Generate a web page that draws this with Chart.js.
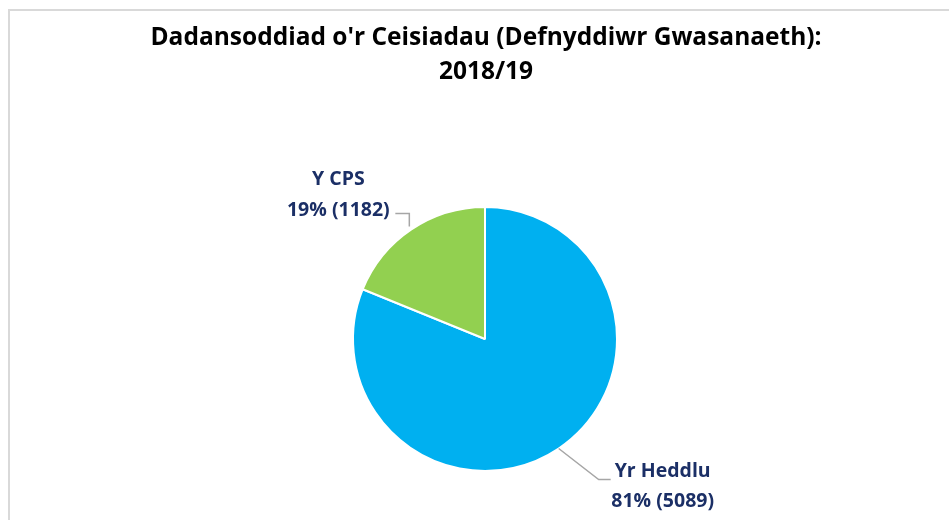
<!DOCTYPE html>
<html><head><meta charset="utf-8">
<script src="https://cdn.jsdelivr.net/npm/chart.js@4/dist/chart.umd.min.js"></script>
<style>
html,body{margin:0;padding:0;background:#fff;overflow:hidden;}
#frame{position:absolute;left:8px;top:9px;width:2000px;height:2000px;border:2px solid #d9d9d9;box-sizing:border-box;}
#wrap{position:absolute;left:0;top:0;width:949px;height:520px;}
</style></head>
<body>
<div id="frame"></div>
<div id="wrap"><canvas id="c" width="949" height="520"></canvas></div>
<script>
const titleLines = ["Dadansoddiad o'r Ceisiadau (Defnyddiwr Gwasanaeth):", "2018/19"];
const categories = ["Yr Heddlu", "Y CPS"];
const values = [5089, 1182];
const percents = ["81%", "19%"];
const colors = ["#00B0F0", "#92D050"];

const labelFont = "bold 19.5px 'Open Sans', sans-serif";
const titleFont = "bold 24.5px 'Open Sans', sans-serif";
const labelColor = "#1B2F66";
const leaderColor = "#A6A6A6";

const overlay = {
  id: 'overlay',
  afterDraw(chart) {
    const ctx = chart.ctx;
    ctx.save();
    ctx.fillStyle = "#000";
    ctx.font = titleFont;
    ctx.textAlign = "center";
    ctx.textBaseline = "middle";
    ctx.fillText(titleLines[0], 486, 38);
    ctx.fillText(titleLines[1], 486, 72);

    const meta = chart.getDatasetMeta(0);
    const pts = meta.data.map(a => {
      const mid = (a.startAngle + a.endAngle) / 2;
      return {x: a.x + Math.cos(mid) * a.outerRadius, y: a.y + Math.sin(mid) * a.outerRadius};
    });
    ctx.strokeStyle = leaderColor;
    ctx.lineWidth = 1.5;
    const h = pts[0];
    ctx.beginPath();
    ctx.moveTo(h.x, h.y);
    ctx.lineTo(h.x + 40, h.y + 31);
    ctx.lineTo(h.x + 52, h.y + 31);
    ctx.stroke();
    const c = pts[1];
    ctx.beginPath();
    ctx.moveTo(c.x - 2, c.y - 3);
    ctx.lineTo(c.x - 2, c.y - 16);
    ctx.lineTo(c.x - 16, c.y - 16);
    ctx.stroke();

    ctx.fillStyle = labelColor;
    ctx.font = labelFont;
    ctx.textAlign = "center";
    ctx.fillText(categories[0], h.x + 104, h.y + 23);
    ctx.fillText(percents[0] + " (" + values[0] + ")", h.x + 104, h.y + 53);
    ctx.fillText(categories[1], c.x - 73, c.y - 50);
    ctx.fillText(percents[1] + " (" + values[1] + ")", c.x - 73, c.y - 19);
    ctx.restore();
  }
};

new Chart(document.getElementById('c'), {
  type: 'pie',
  data: {
    labels: categories,
    datasets: [{
      data: values,
      backgroundColor: colors,
      borderColor: '#ffffff',
      borderWidth: 2
    }]
  },
  options: {
    responsive: false,
    animation: false,
    layout: {padding: {top: 206, bottom: 48, left: 352, right: 331}},
    plugins: {legend: {display: false}, tooltip: {enabled: false}, title: {display: false}}
  },
  plugins: [overlay]
});
</script>
</body></html>
